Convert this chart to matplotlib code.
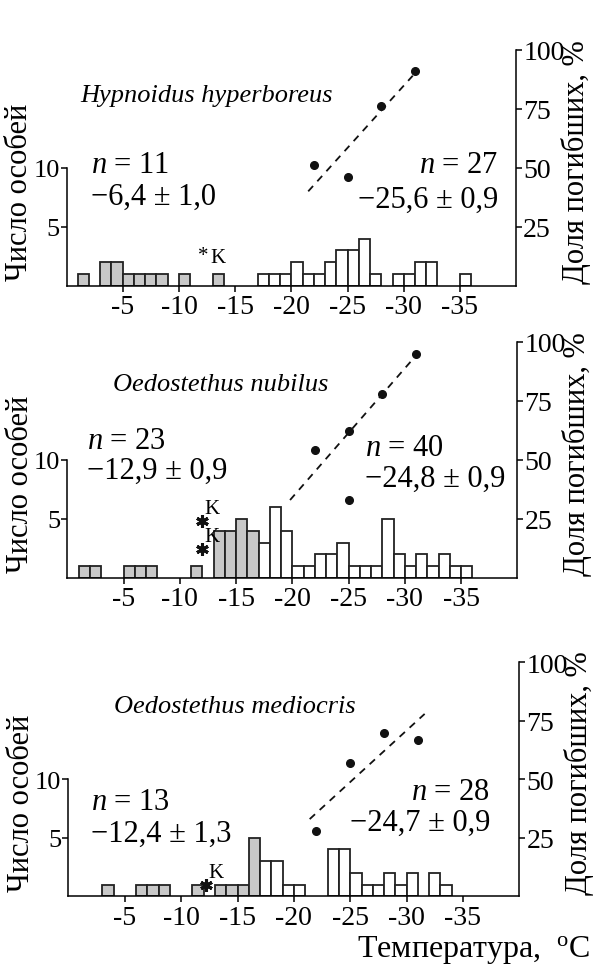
import numpy as np
import matplotlib
matplotlib.use('Agg')
import matplotlib.pyplot as plt

plt.rcParams['font.family'] = ['Liberation Serif', 'DejaVu Serif']
plt.rcParams['mathtext.fontset'] = 'custom'
plt.rcParams['mathtext.rm'] = 'Liberation Serif'
plt.rcParams['mathtext.it'] = 'Liberation Serif:italic'
plt.rcParams['axes.unicode_minus'] = False

# --- data: histogram bins (upper edge of 1-degree bin), counts ---
# Hypnoidus hyperboreus
hh_gray_t = [-1, -3, -4, -5, -6, -7, -8, -10, -13]
hh_gray_n = [1, 2, 2, 1, 1, 1, 1, 1, 1]
hh_white_t = [-17, -18, -19, -20, -21, -22, -23, -24, -25, -26, -27, -29, -30, -31, -32, -35]
hh_white_n = [1, 1, 1, 2, 1, 1, 2, 3, 3, 4, 1, 1, 1, 2, 2, 1]
hh_pts_t = [-22, -25, -28, -31]
hh_pts_pct = [51, 46, 76, 91]
hh_fit_t = [-21.5, -30.8]
hh_fit_pct = [40, 89]
hh_mark = [(-12.2, 2.55)]

# Oedostethus nubilus
on_gray_t = [-1, -2, -5, -6, -7, -11, -13, -14, -15, -16]
on_gray_n = [1, 1, 1, 1, 1, 1, 4, 4, 5, 4]
on_white_t = [-17, -18, -19, -20, -21, -22, -23, -24, -25, -26, -27, -28, -29, -30, -31, -32, -33, -34, -35]
on_white_n = [3, 6, 4, 1, 1, 2, 2, 3, 1, 1, 1, 5, 2, 1, 2, 1, 2, 1, 1]
on_pts_t = [-22, -25, -25, -28, -31]
on_pts_pct = [54, 62, 33, 78, 95]
on_fit_t = [-19.8, -30.6]
on_fit_pct = [33, 92]
on_mark = [(-12.0, 4.8), (-12.0, 2.47)]

# Oedostethus mediocris
om_gray_t = [-3, -6, -7, -8, -11, -13, -14, -15, -16]
om_gray_n = [1, 1, 1, 1, 1, 1, 1, 1, 5]
om_white_t = [-17, -18, -19, -20, -23, -24, -25, -26, -27, -28, -29, -30, -32, -33]
om_white_n = [3, 3, 1, 1, 4, 4, 2, 1, 1, 2, 1, 2, 2, 1]
om_pts_t = [-22, -25, -28, -31]
om_pts_pct = [28, 57, 70, 67]
om_fit_t = [-21.4, -31.6]
om_fit_pct = [33, 78]
om_mark = [(-12.2, 1.0)]

xticks = [-5, -10, -15, -20, -25, -30, -35]

EDGE = '#222222'
GRAY = '#c8c8c8'


def draw_panel(rect, gray_t, gray_n, white_t, white_n, pts_t, pts_pct, fit_t, fit_pct,
               title, title_pos, left_txt, right_txt, right_ha, marks, bold_marks):
    ax = fig.add_axes(rect)
    ax.bar(gray_t, gray_n, width=-1, align='edge', color=GRAY, edgecolor=EDGE, linewidth=1.3)
    ax.bar(white_t, white_n, width=-1, align='edge', color='white', edgecolor=EDGE, linewidth=1.3)
    ax.set_xlim(0, -40)
    ax.set_ylim(0, 20)
    ax.set_xticks(xticks)
    ax.set_yticks([5, 10])
    ax.spines['top'].set_visible(False)
    ax.spines['right'].set_visible(False)
    ax.spines['left'].set_bounds(0, 10)
    for s in ('left', 'bottom'):
        ax.spines[s].set_linewidth(1.1)
    ax.tick_params(direction='out', length=4, width=1.1, labelsize=20, pad=2)
    ax.tick_params(axis='y', pad=1, labelsize=19)
    ax.set_ylabel('Число особей', fontsize=22)
    ax.yaxis.set_label_coords(-0.072, 0.40)

    ax2 = ax.twinx()
    ax2.set_ylim(0, 100)
    ax2.set_yticks([25, 50, 75, 100])
    ax2.spines['top'].set_visible(False)
    ax2.spines['left'].set_visible(False)
    ax2.spines['bottom'].set_visible(False)
    ax2.spines['right'].set_bounds(0, 100)
    ax2.spines['right'].set_linewidth(1.1)
    ax2.tick_params(direction='out', length=4, width=1.1, labelsize=20, pad=1)
    ax2.plot(fit_t, fit_pct, color='#111111', linestyle=(0, (4, 3.5)), linewidth=1.3)
    ax2.plot(pts_t, pts_pct, 'o', color='#111111', markersize=5.5)
    ax2.set_ylabel('Доля погибших, %', fontsize=22)
    ax2.yaxis.set_label_coords(1.10, 0.53)

    # species name and statistics
    ax.text(title_pos[0], title_pos[1], title, fontsize=19, style='italic', ha='left', va='center')
    ax.text(left_txt[0], left_txt[1], left_txt[2], fontsize=22, ha='left', va='center')
    ax.text(left_txt[0], left_txt[3], left_txt[4], fontsize=22, ha='left', va='center')
    ax.text(right_txt[0], right_txt[1], right_txt[2], fontsize=22, ha=right_ha, va='center')
    ax.text(right_txt[0], right_txt[3], right_txt[4], fontsize=22, ha=right_ha, va='center')

    # "K" marks
    for mx, my in marks:
        if bold_marks:
            ax.plot(mx, my, marker=(6, 2, 0), color='#111111', markersize=9, markeredgewidth=2.2)
            ax.text(mx - 0.85, my + 1.05, 'K', fontsize=15, ha='center', va='center')
        else:
            ax.text(mx, my, '*', fontsize=15, ha='center', va='center')
            ax.text(mx - 1.3, my - 0.15, 'K', fontsize=15, ha='center', va='center')
    return ax


fig = plt.figure(figsize=(5.94, 9.70), dpi=100)

draw_panel([0.112, 0.7044, 0.757, 0.2433], hh_gray_t, hh_gray_n, hh_white_t, hh_white_n,
           hh_pts_t, hh_pts_pct, hh_fit_t, hh_fit_pct,
           'Hypnoidus hyperboreus', (-1.2, 16.2),
           (-2.2, 10.25, '$n$ = 11', 7.6, '−6,4 ± 1,0'),
           (-38.4, 10.25, '$n$ = 27', 7.35, '−25,6 ± 0,9'), 'right',
           hh_mark, False)

draw_panel([0.1133, 0.4031, 0.7576, 0.2436], on_gray_t, on_gray_n, on_white_t, on_white_n,
           on_pts_t, on_pts_pct, on_fit_t, on_fit_pct,
           'Oedostethus nubilus', (-4.1, 16.4),
           (-1.75, 11.6, '$n$ = 23', 9.1, '−12,9 ± 0,9'),
           (-26.5, 11.06, '$n$ = 40', 8.4, '−24,8 ± 0,9'), 'left',
           on_mark, True)

draw_panel([0.1153, 0.075, 0.759, 0.241], om_gray_t, om_gray_n, om_white_t, om_white_n,
           om_pts_t, om_pts_pct, om_fit_t, om_fit_pct,
           'Oedostethus mediocris', (-4.0, 16.3),
           (-1.96, 8.1, '$n$ = 13', 5.4, '−12,4 ± 1,3'),
           (-37.4, 8.95, '$n$ = 28', 6.3, '−24,7 ± 0,9'), 'right',
           om_mark, True)

fig.text(590 / 594, 1 - 950 / 970, 'Температура,  $^{\\rm o}$C', fontsize=23, ha='right', va='center')

fig.savefig('out.png', dpi=100)
